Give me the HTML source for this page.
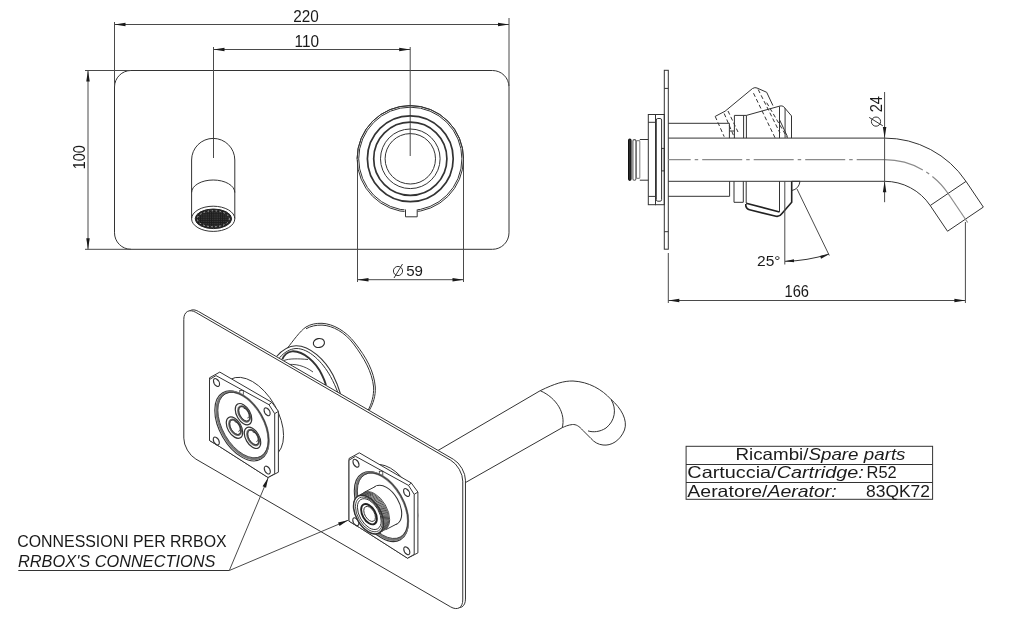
<!DOCTYPE html>
<html><head><meta charset="utf-8"><style>
html,body{margin:0;padding:0;background:#fff;width:1024px;height:635px;overflow:hidden}
svg{display:block;will-change:transform}
text{font-family:"Liberation Sans",sans-serif;fill:#1a1a1a}
.s{stroke:#333;stroke-width:1}
.d{stroke:#4a4a4a;stroke-width:1}
.c{fill:none;stroke:#8a8a8a;stroke-width:1.2;stroke-dasharray:40 4 3.5 4}
.h{fill:none;stroke:#333;stroke-width:1;stroke-dasharray:4 2.5}
.f{fill:#1a1a1a;stroke:none}
</style></head><body>
<svg width="1024" height="635" viewBox="0 0 1024 635" fill="none">
<rect class="s" x="114.5" y="70.5" width="394.5" height="178.8" rx="16.5" ry="16.5"/>
<line class="d" x1="114.50" y1="22.00" x2="114.50" y2="86.00"/>
<line class="d" x1="509.00" y1="18.00" x2="509.00" y2="86.00"/>
<line class="d" x1="114.50" y1="24.50" x2="509.00" y2="24.50"/>
<polygon class="f" points="114.50,24.50 125.50,22.75 125.50,26.25"/>
<polygon class="f" points="509.00,24.50 498.00,26.25 498.00,22.75"/>
<text x="293.2" y="21.5" font-size="16" text-anchor="start" textLength="25.5" lengthAdjust="spacingAndGlyphs" >220</text>
<line class="d" x1="213.50" y1="47.00" x2="213.50" y2="158.00"/>
<line class="d" x1="410.20" y1="47.00" x2="410.20" y2="156.00"/>
<line class="d" x1="213.50" y1="49.50" x2="410.20" y2="49.50"/>
<polygon class="f" points="213.50,49.50 224.50,47.75 224.50,51.25"/>
<polygon class="f" points="410.20,49.50 399.20,51.25 399.20,47.75"/>
<text x="294.5" y="46.5" font-size="16" text-anchor="start" textLength="24.5" lengthAdjust="spacingAndGlyphs" >110</text>
<line class="d" x1="85.00" y1="70.50" x2="131.00" y2="70.50"/>
<line class="d" x1="85.00" y1="249.30" x2="131.00" y2="249.30"/>
<line class="d" x1="88.00" y1="70.50" x2="88.00" y2="249.30"/>
<polygon class="f" points="88.00,70.50 89.75,81.50 86.25,81.50"/>
<polygon class="f" points="88.00,249.30 86.25,238.30 89.75,238.30"/>
<text x="0" y="0" font-size="15.7" text-anchor="start" textLength="24" lengthAdjust="spacingAndGlyphs" transform="translate(84.6,169.2) rotate(-90)">100</text>
<line class="d" x1="357.50" y1="160.00" x2="357.50" y2="282.00"/>
<line class="d" x1="463.50" y1="160.00" x2="463.50" y2="282.00"/>
<line class="d" x1="357.50" y1="279.70" x2="463.50" y2="279.70"/>
<polygon class="f" points="357.50,279.70 368.50,277.95 368.50,281.45"/>
<polygon class="f" points="463.50,279.70 452.50,281.45 452.50,277.95"/>
<text x="406.2" y="276.3" font-size="15" text-anchor="start" textLength="16.8" lengthAdjust="spacingAndGlyphs" >59</text>
<g class="s"><circle cx="398" cy="271" r="4.6"/><line x1="394" y1="278" x2="402.5" y2="264"/></g>
<path class="s" d="M191.6,218.5 L191.6,160 A21.6,21.6 0 0 1 234.8,160 L234.8,218.5"/>
<path class="s" d="M191.6,192.5 A21.6,12.5 0 0 1 234.8,192.5"/>
<ellipse class="s" cx="213.2" cy="218.8" rx="21.6" ry="12.6"/>
<defs><pattern id="mesh" width="2.2" height="2.2" patternUnits="userSpaceOnUse"><rect width="2.2" height="2.2" fill="#1c1c1c"/><rect x="1.1" y="1.1" width="0.8" height="0.8" fill="#6a6a6a"/></pattern></defs>
<ellipse cx="213.4" cy="218.8" rx="18.2" ry="9.8" fill="url(#mesh)" stroke="#222" stroke-width="1"/>
<ellipse cx="213.4" cy="218.8" rx="16" ry="8" fill="none" stroke="#bbb" stroke-width="1" stroke-dasharray="1.5 2.5"/>
<path class="s" d="M357.10,158.80 A53.2,53.2 0 1 1 463.50,158.80"/>
<circle cx="410.3" cy="158.8" r="53.2" fill="none" stroke="#333" stroke-width="1"/>
<circle cx="410.3" cy="158.8" r="51.6" fill="none" stroke="#333" stroke-width="1"/>
<circle cx="410.3" cy="158.8" r="42.9" fill="none" stroke="#333" stroke-width="1.7"/>
<circle cx="410.3" cy="158.8" r="36.6" fill="none" stroke="#333" stroke-width="1.7"/>
<circle cx="410.3" cy="158.8" r="29.8" fill="none" stroke="#333" stroke-width="1"/>
<circle cx="410.3" cy="158.8" r="25.2" fill="none" stroke="#333" stroke-width="1"/>
<rect x="404.5" y="207" width="13" height="11" fill="#fff"/>
<path class="s" d="M405.5,209.5 L405.5,216.8 L417.2,216.8 L417.2,209.5"/>
<rect class="s" x="664.3" y="70.3" width="4" height="178.9"/>
<line class="s" x1="664.30" y1="88.40" x2="668.30" y2="88.40"/>
<line class="s" x1="664.30" y1="231.70" x2="668.30" y2="231.70"/>
<rect class="s" x="648.3" y="114.5" width="7.2" height="90.2"/>
<line class="s" x1="648.30" y1="122.30" x2="655.50" y2="122.30"/>
<line class="s" x1="648.30" y1="196.40" x2="655.50" y2="196.40"/>
<rect class="s" x="655.5" y="114.5" width="8.8" height="90.2"/>
<rect class="s" x="656.3" y="118.5" width="5.3" height="82.7" rx="1.5"/>
<rect class="s" x="661.6" y="148.4" width="2.7" height="22.5"/>
<path class="s" d="M639.8,139.5 L648.3,139.5 M639.8,180.2 L648.3,180.2"/>
<rect x="636.4" y="140.6" width="3.4" height="37.8" rx="0.8" fill="none" stroke="#8a8a8a" stroke-width="1.1"/>
<rect x="632.9" y="139.6" width="3" height="40.6" rx="1.4" fill="none" stroke="#5a5a5a" stroke-width="1.1"/>
<rect x="628.6" y="139.2" width="2.4" height="41.1" rx="1.2" fill="#333" stroke="#111" stroke-width="1.2"/>
<line class="s" x1="668.30" y1="123.30" x2="729.40" y2="123.30"/>
<line class="s" x1="729.40" y1="123.30" x2="729.40" y2="138.10"/>
<line class="s" x1="668.30" y1="196.30" x2="729.60" y2="196.30"/>
<line class="s" x1="729.60" y1="181.30" x2="729.60" y2="196.30"/>
<line class="s" x1="729.40" y1="131.00" x2="734.20" y2="131.00"/>
<line class="s" x1="668.30" y1="138.10" x2="884.60" y2="138.10"/>
<line class="s" x1="668.30" y1="181.30" x2="884.60" y2="181.30"/>
<line class="c" style="stroke-dashoffset:17.6" x1="668.3" y1="159.6" x2="884.6" y2="159.6"/>
<path class="s" d="M884.6,138.1 A98.2,98.2 0 0 1 966.01,181.39"/>
<path class="s" d="M884.6,181.3 A55.0,55.0 0 0 1 930.20,205.54"/>
<path class="c" d="M884.6,159.7 A76.6,76.6 0 0 1 948.10,193.47"/>
<path class="s" d="M966.01,181.39 L983.35,207.09 L947.53,231.24 L930.20,205.54 Z"/>
<path class="c" d="M948.10,193.47 L967.68,222.48"/>
<line class="d" x1="965.40" y1="222.00" x2="965.40" y2="303.00"/>
<line class="d" x1="884.60" y1="92.00" x2="884.60" y2="202.20"/>
<polygon class="f" points="884.60,138.10 882.85,127.10 886.35,127.10"/>
<polygon class="f" points="884.60,181.30 886.35,192.30 882.85,192.30"/>
<text x="0" y="0" font-size="16" text-anchor="start" textLength="16.3" lengthAdjust="spacingAndGlyphs" transform="translate(881.6,112.3) rotate(-90)">24</text>
<g class="s" transform="translate(876,121.6)"><circle cx="0" cy="0" r="4.6"/><line x1="-6.8" y1="-4.2" x2="6.8" y2="4.2"/></g>
<line class="d" x1="668.30" y1="253.00" x2="668.30" y2="303.00"/>
<line class="d" x1="668.30" y1="300.50" x2="965.40" y2="300.50"/>
<polygon class="f" points="668.30,300.50 679.30,298.75 679.30,302.25"/>
<polygon class="f" points="965.40,300.50 954.40,302.25 954.40,298.75"/>
<text x="784.5" y="296.9" font-size="16" text-anchor="start" textLength="24.5" lengthAdjust="spacingAndGlyphs" >166</text>
<path class="s" d="M734.4,138.1 L734.4,115.4 L746.4,115.4 L746.4,138.1"/>
<line class="s" x1="743.60" y1="115.40" x2="743.60" y2="138.10"/>
<path class="s" d="M746.4,115.4 L780,106 Q782,105.6 783.5,106.5 L791.5,115.9 L791.5,138.1"/>
<line class="s" x1="779.50" y1="106.50" x2="779.50" y2="138.10"/>
<line x1="785.1" y1="108" x2="785.1" y2="138.1" stroke="#555" stroke-width="1.2"/>
<line class="s" x1="779.50" y1="119.70" x2="787.50" y2="136.70"/>
<path class="s" d="M715.2,116.4 L725.1,111.2 L752.5,88.5 Q755,87 757,88 L766.7,92.3 L772.9,105.5"/>
<path class="h" d="M753.5,93.2 L775.2,138.1 M758.2,89.5 L780,133 M766.7,102.7 L787.5,138 M715.2,116.4 L724.2,136.7 M724.2,113.5 L734.6,138 M728,111 L738,132"/>
<path class="s" d="M734,181.3 L734,202.3 L743.3,202.3 L743.3,181.3"/>
<line class="s" x1="746.20" y1="181.30" x2="746.20" y2="203.00"/>
<path d="M746.2,203.3 L779.5,212 M745.8,204 L745.8,206 Q746.5,209 749.5,209.8 L776,216.3 Q779.5,217 782,213.5 L791.7,202.3 L791.7,181.3" fill="none" stroke="#222" stroke-width="1.6"/>
<line class="s" x1="779.50" y1="181.30" x2="779.50" y2="212.00"/>
<line class="d" x1="784.80" y1="181.30" x2="784.80" y2="264.50"/>
<path class="s" d="M791.7,181.3 L800,181.3 Q799,189 791.7,190.6"/>
<line class="d" x1="797.00" y1="189.00" x2="829.30" y2="255.50"/>
<path class="s" d="M785,261.3 Q807,261 829,254"/>
<polygon class="f" points="785.00,261.30 793.91,259.35 794.06,262.35"/>
<polygon class="f" points="829.00,254.20 821.07,258.72 820.04,255.90"/>
<text x="757" y="266.2" font-size="15" text-anchor="start" textLength="23.5" lengthAdjust="spacingAndGlyphs" >25°</text>
<text x="17.2" y="547.3" font-size="16.3" text-anchor="start" textLength="209.5" lengthAdjust="spacingAndGlyphs" >CONNESSIONI PER RRBOX</text>
<text x="18" y="566.9" font-size="16.3" text-anchor="start" textLength="197.5" lengthAdjust="spacingAndGlyphs" font-style="italic">RRBOX'S CONNECTIONS</text>
<line class="s" x1="18.30" y1="570.50" x2="229.30" y2="570.50"/>
<rect class="s" x="686.1" y="446.3" width="246.5" height="53"/>
<line class="s" x1="686.00" y1="464.50" x2="932.60" y2="464.50"/>
<line class="s" x1="686.00" y1="482.50" x2="932.60" y2="482.50"/>
<text x="735.5" y="459.7" font-size="16.5" text-anchor="start" textLength="170" lengthAdjust="spacingAndGlyphs" >Ricambi/<tspan font-style="italic">Spare parts</tspan></text>
<text x="687.3" y="478.1" font-size="16.5" text-anchor="start" textLength="176.5" lengthAdjust="spacingAndGlyphs" >Cartuccia/<tspan font-style="italic">Cartridge:</tspan></text>
<text x="866.5" y="478.1" font-size="16.5" text-anchor="start" textLength="30.2" lengthAdjust="spacingAndGlyphs" >R52</text>
<text x="687.3" y="496.5" font-size="16.5" text-anchor="start" textLength="149.5" lengthAdjust="spacingAndGlyphs" >Aeratore/<tspan font-style="italic">Aerator:</tspan></text>
<text x="866" y="496.5" font-size="16.5" text-anchor="start" textLength="64" lengthAdjust="spacingAndGlyphs" >83QK72</text>
<path d="M420,461 L540.2,390.7" fill="none" stroke="#333" stroke-width="1"/>
<path d="M440,497 L562.2,427.7" fill="none" stroke="#333" stroke-width="1"/>
<path fill="#fff" stroke="none" d="M540.2,390.7 C555,383.5 564,380.8 573,381 C589,381.8 602,389.5 611,399.4 C621,408 628,420 624.5,430 C620,441 611,446 603,445 C598,444.5 594,442 591,438.5 L583,430.5 C579,426 576,424.3 572.5,424.5 C568,425 565,426.5 562.2,427.7 Z"/>
<path d="M540.2,390.7 C555,383.5 564,380.8 573,381 C589,381.8 602,389.5 611,399.4 C621,408 628,420 624.5,430 C620,441 611,446 603,445 C598,444.5 594,442 591,438.5 L583,430.5 C579,426 576,424.3 572.5,424.5 C568,425 565,426.5 562.2,427.7" fill="none" stroke="#333" stroke-width="1"/>
<path d="M540.2,390.7 C557,398 566,414 562.2,427.7" fill="none" stroke="#333" stroke-width="1"/>
<path d="M611,399.4 C617,409 615,421 606,428 C600,432 593,432.5 588,430.9" fill="none" stroke="#333" stroke-width="1"/>
<path fill="#fff" stroke="none" d="M287.5,348 C293,341 300,331 306,327 C311,324 316,323.2 322,323.3 C333,323.8 346,331 355,343 C366,357 374,371 375.3,387 C375.8,396 373,404 369.5,410 L287.5,410 Z"/>
<path d="M287.5,348 C293,341 300,331 306,327 C311,324 316,323.2 322,323.3 C333,323.8 346,331 355,343 C366,357 374,371 375.3,387 C375.8,396 373,404 369.5,410" fill="none" stroke="#333" stroke-width="1"/>
<path d="M306,328.8 C311,326 316,325 322,325.1 C333,325.6 345,332.5 353.6,344 C364,358 372,371.5 373.6,387 C374,396 371.5,404 368,410.5" fill="none" stroke="#333" stroke-width="1"/>
<ellipse cx="318.9" cy="343" rx="5.6" ry="4.5" transform="rotate(-12 318.9 343)" fill="none" stroke="#2a2a2a" stroke-width="1.1"/>
<path d="M276.6,356.5 C282,350 289,346 296,345.7 C310,345.5 325,360 333,375 C336,381 338.5,387 340.5,394" fill="none" stroke="#333" stroke-width="1.1"/>
<path d="M279.5,357.8 C284,352.5 290,348.8 296,348.5 C309,348.3 322.5,362 330.5,376.5 C333.5,382 336,387.5 338,393" fill="none" stroke="#333" stroke-width="1"/>
<path d="M282.3,359.4 C284,355 287,352 292,351.3 C303,350.5 316,362 322,375 C323.5,378 324.8,381 326,385" fill="none" stroke="#333" stroke-width="1.8"/>
<path d="M284,360.5 C289,358.5 298,358.5 308,359.5" fill="none" stroke="#333" stroke-width="0.9"/>
<path d="M285,365 C295,363 305,366 313,372" fill="none" stroke="#333" stroke-width="0.9"/>
<rect transform="matrix(1.268,0.7355,0.0,1.467,186.50,304.50)" x="0" y="0" width="220" height="100" rx="9.5" ry="9.5" fill="#fff" stroke="#333" stroke-width="1" vector-effect="non-scaling-stroke"/>
<rect transform="matrix(1.268,0.7355,0.0,1.467,183.80,305.40)" x="0" y="0" width="220" height="100" rx="9.5" ry="9.5" fill="#fff" stroke="#333" stroke-width="1" vector-effect="non-scaling-stroke"/>
<ellipse transform="matrix(1.268,0.7355,0.0,1.467,252.50,417.50)" cx="0" cy="0" rx="24.5" ry="24.5" fill="#fff" stroke="#333" stroke-width="1" vector-effect="non-scaling-stroke"/>
<polygon fill="#fff" stroke="#333" stroke-width="1" points="209.50,377.80 219.80,372.10 271.80,402.30 278.40,411.30 278.40,472.20 268.00,477.50 219.80,446.70 209.50,440.50"/>
<polygon fill="#fff" stroke="#333" stroke-width="1" points="209.50,379.50 216.00,375.60 269.00,404.70 274.70,413.70 274.70,473.70 268.00,477.50 219.80,446.70 209.50,440.50"/>
<line class="s" x1="269.00" y1="404.70" x2="271.80" y2="402.30"/>
<line class="s" x1="274.70" y1="413.70" x2="278.40" y2="411.30"/>
<ellipse transform="matrix(1.268,0.7355,0.0,1.467,216.50,382.50)" cx="0" cy="0" rx="2.4" ry="2.4" fill="#fff" stroke="#333" stroke-width="1.1" vector-effect="non-scaling-stroke"/>
<ellipse transform="matrix(1.268,0.7355,0.0,1.467,267.10,411.80)" cx="0" cy="0" rx="2.4" ry="2.4" fill="#fff" stroke="#333" stroke-width="1.1" vector-effect="non-scaling-stroke"/>
<ellipse transform="matrix(1.268,0.7355,0.0,1.467,216.30,441.00)" cx="0" cy="0" rx="2.4" ry="2.4" fill="#fff" stroke="#333" stroke-width="1.1" vector-effect="non-scaling-stroke"/>
<ellipse transform="matrix(1.268,0.7355,0.0,1.467,267.30,470.10)" cx="0" cy="0" rx="2.4" ry="2.4" fill="#fff" stroke="#333" stroke-width="1.1" vector-effect="non-scaling-stroke"/>
<rect x="239.8" y="390.5" width="3.5" height="4" fill="none" stroke="#333" stroke-width="0.8"/>
<ellipse transform="matrix(1.268,0.7355,0.0,1.467,241.80,425.90)" cx="0" cy="0" rx="21.3" ry="21.3" fill="none" stroke="#333" stroke-width="1.1" vector-effect="non-scaling-stroke"/>
<ellipse transform="matrix(1.268,0.7355,0.0,1.467,242.60,425.40)" cx="0" cy="0" rx="20.5" ry="20.5" fill="none" stroke="#777" stroke-width="2.2" vector-effect="non-scaling-stroke"/>
<ellipse transform="matrix(1.268,0.7355,0.0,1.467,243.20,425.00)" cx="0" cy="0" rx="20.0" ry="20.0" fill="none" stroke="#333" stroke-width="0.9" vector-effect="non-scaling-stroke"/>
<ellipse transform="matrix(1.268,0.7355,0.0,1.467,390.50,499.70)" cx="0" cy="0" rx="21.5" ry="21.5" fill="#fff" stroke="#333" stroke-width="1" vector-effect="non-scaling-stroke"/>
<polygon fill="#fff" stroke="#333" stroke-width="1" points="349.00,458.50 359.30,452.80 411.30,483.00 417.90,492.00 417.90,552.90 407.50,558.20 359.30,527.40 349.00,521.20"/>
<polygon fill="#fff" stroke="#333" stroke-width="1" points="349.00,460.20 355.50,456.30 408.50,485.40 414.20,494.40 414.20,554.40 407.50,558.20 359.30,527.40 349.00,521.20"/>
<line class="s" x1="408.50" y1="485.40" x2="411.30" y2="483.00"/>
<line class="s" x1="414.20" y1="494.40" x2="417.90" y2="492.00"/>
<ellipse transform="matrix(1.268,0.7355,0.0,1.467,356.00,463.20)" cx="0" cy="0" rx="2.4" ry="2.4" fill="#fff" stroke="#333" stroke-width="1.1" vector-effect="non-scaling-stroke"/>
<ellipse transform="matrix(1.268,0.7355,0.0,1.467,406.60,492.50)" cx="0" cy="0" rx="2.4" ry="2.4" fill="#fff" stroke="#333" stroke-width="1.1" vector-effect="non-scaling-stroke"/>
<ellipse transform="matrix(1.268,0.7355,0.0,1.467,355.80,521.70)" cx="0" cy="0" rx="2.4" ry="2.4" fill="#fff" stroke="#333" stroke-width="1.1" vector-effect="non-scaling-stroke"/>
<ellipse transform="matrix(1.268,0.7355,0.0,1.467,406.80,550.80)" cx="0" cy="0" rx="2.4" ry="2.4" fill="#fff" stroke="#333" stroke-width="1.1" vector-effect="non-scaling-stroke"/>
<rect x="379.3" y="471.2" width="3.5" height="4" fill="none" stroke="#333" stroke-width="0.8"/>
<ellipse transform="matrix(1.268,0.7355,0.0,1.467,381.30,506.60)" cx="0" cy="0" rx="21.3" ry="21.3" fill="none" stroke="#333" stroke-width="1.1" vector-effect="non-scaling-stroke"/>
<ellipse transform="matrix(1.268,0.7355,0.0,1.467,382.10,506.10)" cx="0" cy="0" rx="20.5" ry="20.5" fill="none" stroke="#777" stroke-width="2.2" vector-effect="non-scaling-stroke"/>
<ellipse transform="matrix(1.268,0.7355,0.0,1.467,382.70,505.70)" cx="0" cy="0" rx="20.0" ry="20.0" fill="none" stroke="#333" stroke-width="0.9" vector-effect="non-scaling-stroke"/>
<ellipse transform="matrix(1.268,0.7355,0.0,1.467,243.50,414.20)" cx="0" cy="0" rx="6.5" ry="6.5" fill="#fff" stroke="#333" stroke-width="1.2" vector-effect="non-scaling-stroke"/>
<ellipse transform="matrix(1.268,0.7355,0.0,1.467,244.10,413.90)" cx="0" cy="0" rx="4.7" ry="4.7" fill="none" stroke="#666" stroke-width="2.0" vector-effect="non-scaling-stroke"/>
<ellipse transform="matrix(1.268,0.7355,0.0,1.467,244.40,413.70)" cx="0" cy="0" rx="4.5" ry="4.5" fill="none" stroke="#333" stroke-width="0.9" vector-effect="non-scaling-stroke"/>
<path transform="matrix(1.268,0.7355,0.0,1.467,245.50,413.10)" d="M-1.500,-2.598 A3.0,3.0 0 0 1 1.500,2.598" fill="none" stroke="#333" stroke-width="0.9" vector-effect="non-scaling-stroke"/>
<ellipse transform="matrix(1.268,0.7355,0.0,1.467,234.50,427.60)" cx="0" cy="0" rx="6.5" ry="6.5" fill="#fff" stroke="#333" stroke-width="1.2" vector-effect="non-scaling-stroke"/>
<ellipse transform="matrix(1.268,0.7355,0.0,1.467,235.10,427.30)" cx="0" cy="0" rx="4.7" ry="4.7" fill="none" stroke="#666" stroke-width="2.0" vector-effect="non-scaling-stroke"/>
<ellipse transform="matrix(1.268,0.7355,0.0,1.467,235.40,427.10)" cx="0" cy="0" rx="4.5" ry="4.5" fill="none" stroke="#333" stroke-width="0.9" vector-effect="non-scaling-stroke"/>
<path transform="matrix(1.268,0.7355,0.0,1.467,236.50,426.50)" d="M-1.500,-2.598 A3.0,3.0 0 0 1 1.500,2.598" fill="none" stroke="#333" stroke-width="0.9" vector-effect="non-scaling-stroke"/>
<ellipse transform="matrix(1.268,0.7355,0.0,1.467,252.50,437.80)" cx="0" cy="0" rx="6.5" ry="6.5" fill="#fff" stroke="#333" stroke-width="1.2" vector-effect="non-scaling-stroke"/>
<ellipse transform="matrix(1.268,0.7355,0.0,1.467,253.10,437.50)" cx="0" cy="0" rx="4.7" ry="4.7" fill="none" stroke="#666" stroke-width="2.0" vector-effect="non-scaling-stroke"/>
<ellipse transform="matrix(1.268,0.7355,0.0,1.467,253.40,437.30)" cx="0" cy="0" rx="4.5" ry="4.5" fill="none" stroke="#333" stroke-width="0.9" vector-effect="non-scaling-stroke"/>
<path transform="matrix(1.268,0.7355,0.0,1.467,254.50,436.70)" d="M-1.500,-2.598 A3.0,3.0 0 0 1 1.500,2.598" fill="none" stroke="#333" stroke-width="0.9" vector-effect="non-scaling-stroke"/>
<ellipse transform="matrix(1.268,0.7355,0.0,1.467,386.50,505.00)" cx="0" cy="0" rx="12.0" ry="12.0" fill="#fff" stroke="#333" stroke-width="1.1" vector-effect="non-scaling-stroke"/>
<ellipse transform="matrix(1.268,0.7355,0.0,1.467,385.06,505.75)" cx="0" cy="0" rx="12.0" ry="12.0" fill="#fff" stroke="none" stroke-width="1" vector-effect="non-scaling-stroke"/>
<ellipse transform="matrix(1.268,0.7355,0.0,1.467,383.62,506.50)" cx="0" cy="0" rx="12.0" ry="12.0" fill="#fff" stroke="none" stroke-width="1" vector-effect="non-scaling-stroke"/>
<ellipse transform="matrix(1.268,0.7355,0.0,1.467,382.19,507.25)" cx="0" cy="0" rx="12.0" ry="12.0" fill="#fff" stroke="none" stroke-width="1" vector-effect="non-scaling-stroke"/>
<ellipse transform="matrix(1.268,0.7355,0.0,1.467,380.75,508.00)" cx="0" cy="0" rx="12.0" ry="12.0" fill="#fff" stroke="none" stroke-width="1" vector-effect="non-scaling-stroke"/>
<ellipse transform="matrix(1.268,0.7355,0.0,1.467,379.31,508.75)" cx="0" cy="0" rx="12.0" ry="12.0" fill="#fff" stroke="none" stroke-width="1" vector-effect="non-scaling-stroke"/>
<ellipse transform="matrix(1.268,0.7355,0.0,1.467,377.88,509.50)" cx="0" cy="0" rx="12.0" ry="12.0" fill="#fff" stroke="none" stroke-width="1" vector-effect="non-scaling-stroke"/>
<ellipse transform="matrix(1.268,0.7355,0.0,1.467,376.44,510.25)" cx="0" cy="0" rx="12.0" ry="12.0" fill="#fff" stroke="none" stroke-width="1" vector-effect="non-scaling-stroke"/>
<ellipse transform="matrix(1.268,0.7355,0.0,1.467,375.00,511.00)" cx="0" cy="0" rx="12.0" ry="12.0" fill="#fff" stroke="none" stroke-width="1" vector-effect="non-scaling-stroke"/>
<line class="s" x1="375.74" y1="486.32" x2="364.24" y2="492.32"/>
<line class="s" x1="397.26" y1="523.68" x2="385.76" y2="529.68"/>
<ellipse transform="matrix(1.268,0.7355,0.0,1.467,374.70,511.00)" cx="0" cy="0" rx="11.8" ry="11.8" fill="#fff" stroke="#3a3a3a" stroke-width="0.9" vector-effect="non-scaling-stroke"/>
<ellipse transform="matrix(1.268,0.7355,0.0,1.467,373.81,511.51)" cx="0" cy="0" rx="11.8" ry="11.8" fill="#fff" stroke="#3a3a3a" stroke-width="0.9" vector-effect="non-scaling-stroke"/>
<ellipse transform="matrix(1.268,0.7355,0.0,1.467,372.93,512.03)" cx="0" cy="0" rx="11.8" ry="11.8" fill="#fff" stroke="#3a3a3a" stroke-width="0.9" vector-effect="non-scaling-stroke"/>
<ellipse transform="matrix(1.268,0.7355,0.0,1.467,372.04,512.54)" cx="0" cy="0" rx="11.8" ry="11.8" fill="#fff" stroke="#3a3a3a" stroke-width="0.9" vector-effect="non-scaling-stroke"/>
<ellipse transform="matrix(1.268,0.7355,0.0,1.467,371.16,513.06)" cx="0" cy="0" rx="11.8" ry="11.8" fill="#fff" stroke="#3a3a3a" stroke-width="0.9" vector-effect="non-scaling-stroke"/>
<ellipse transform="matrix(1.268,0.7355,0.0,1.467,370.27,513.57)" cx="0" cy="0" rx="11.8" ry="11.8" fill="#fff" stroke="#3a3a3a" stroke-width="0.9" vector-effect="non-scaling-stroke"/>
<ellipse transform="matrix(1.268,0.7355,0.0,1.467,369.39,514.09)" cx="0" cy="0" rx="11.8" ry="11.8" fill="#fff" stroke="#3a3a3a" stroke-width="0.9" vector-effect="non-scaling-stroke"/>
<ellipse transform="matrix(1.268,0.7355,0.0,1.467,368.50,514.60)" cx="0" cy="0" rx="11.8" ry="11.8" fill="#fff" stroke="#3a3a3a" stroke-width="0.9" vector-effect="non-scaling-stroke"/>
<ellipse transform="matrix(1.268,0.7355,0.0,1.467,368.50,514.60)" cx="0" cy="0" rx="11.8" ry="11.8" fill="#fff" stroke="#333" stroke-width="1.5" vector-effect="non-scaling-stroke"/>
<ellipse transform="matrix(1.268,0.7355,0.0,1.467,368.90,514.40)" cx="0" cy="0" rx="10.6" ry="10.6" fill="none" stroke="#333" stroke-width="0.9" vector-effect="non-scaling-stroke"/>
<ellipse transform="matrix(1.268,0.7355,0.0,1.467,369.30,514.10)" cx="0" cy="0" rx="9.4" ry="9.4" fill="none" stroke="#333" stroke-width="1" vector-effect="non-scaling-stroke"/>
<ellipse transform="matrix(1.268,0.7355,0.0,1.467,369.00,514.20)" cx="0" cy="0" rx="6.2" ry="6.2" fill="none" stroke="#222" stroke-width="1.9" vector-effect="non-scaling-stroke"/>
<ellipse transform="matrix(1.268,0.7355,0.0,1.467,369.60,513.90)" cx="0" cy="0" rx="4.6" ry="4.6" fill="none" stroke="#333" stroke-width="1" vector-effect="non-scaling-stroke"/>
<line class="d" x1="229.30" y1="570.50" x2="268.20" y2="477.80"/>
<polygon class="f" points="268.20,477.80 266.07,487.75 262.57,486.28"/>
<line class="d" x1="229.30" y1="570.50" x2="348.00" y2="520.30"/>
<polygon class="f" points="348.00,520.30 339.53,525.95 338.05,522.45"/>
</svg></body></html>
